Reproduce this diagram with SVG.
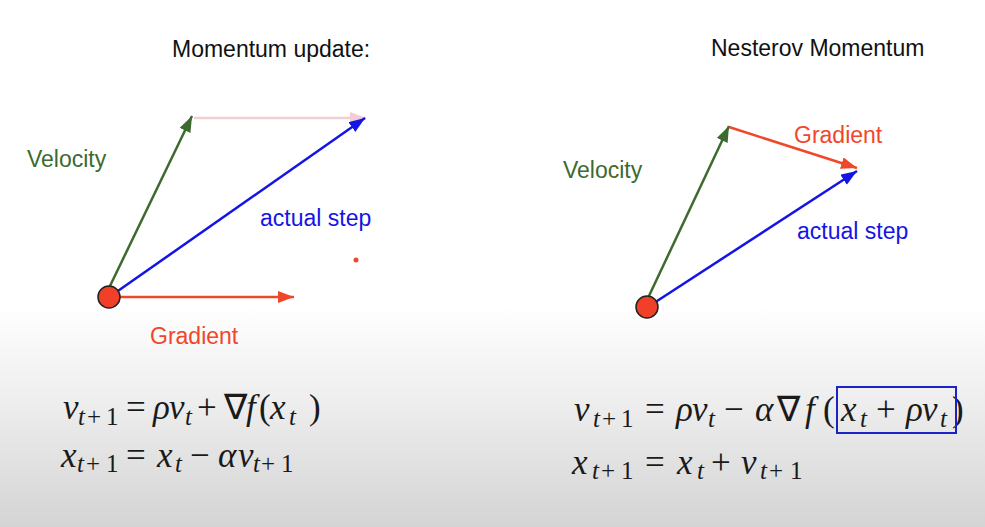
<svg xmlns="http://www.w3.org/2000/svg" width="985" height="527" viewBox="0 0 985 527">
<style>
.t{font-family:"Liberation Sans",Arial,sans-serif;font-size:23px;fill:#111}
.lab{font-family:"Liberation Sans",Arial,sans-serif;font-size:23px}
.g{fill:#3d6a2f}.b{fill:#1414e6}.r{fill:#f0472a}
.eq{font-family:"Liberation Serif","Times New Roman",serif;font-size:35px;fill:#1a1a1a}
.i{font-style:italic}
.s{font-size:25px}
.ln{stroke-width:2.5;fill:none}
</style>
<defs>
<linearGradient id="bg" x1="0" y1="0" x2="0" y2="1">
<stop offset="0" stop-color="#ffffff"/>
<stop offset="0.58" stop-color="#ffffff"/>
<stop offset="0.76" stop-color="#eeeeee"/>
<stop offset="1" stop-color="#d4d4d4"/>
</linearGradient>
<marker id="ag" markerUnits="userSpaceOnUse" markerWidth="18" markerHeight="14" refX="16" refY="6" orient="auto"><path d="M0,0 L16,6 L0,12 z" fill="#3d6a2f"/></marker>
<marker id="ab" markerUnits="userSpaceOnUse" markerWidth="18" markerHeight="14" refX="16" refY="6" orient="auto"><path d="M0,0 L16,6 L0,12 z" fill="#1414e6"/></marker>
<marker id="ar" markerUnits="userSpaceOnUse" markerWidth="18" markerHeight="14" refX="16" refY="6" orient="auto"><path d="M0,0 L16,6 L0,12 z" fill="#f0472a"/></marker>
<marker id="ap" markerUnits="userSpaceOnUse" markerWidth="18" markerHeight="14" refX="16" refY="6" orient="auto"><path d="M0,0 L16,6 L0,12 z" fill="#f3cdd4"/></marker>
</defs>
<rect width="985" height="527" fill="url(#bg)"/>

<g id="titles">
<text class="t" x="172" y="57">Momentum update:</text>
<text class="t" x="711" y="56">Nesterov Momentum</text>
</g>

<g id="connectors">
<line class="ln" x1="194" y1="118" x2="366" y2="118" stroke="#f3cdd4" marker-end="url(#ap)"/>
<line class="ln" x1="109" y1="288" x2="192" y2="116" stroke="#3d6a2f" marker-end="url(#ag)"/>
<line class="ln" x1="115" y1="293" x2="365" y2="118" stroke="#1414e6" marker-end="url(#ab)"/>
<line class="ln" x1="118" y1="297" x2="294" y2="297" stroke="#f0472a" marker-end="url(#ar)"/>

<line class="ln" x1="648" y1="298" x2="729" y2="126" stroke="#3d6a2f" marker-end="url(#ag)"/>
<line class="ln" x1="729" y1="127" x2="857" y2="168" stroke="#f0472a" marker-end="url(#ar)"/>
<line class="ln" x1="654" y1="303" x2="857" y2="171" stroke="#1414e6" marker-end="url(#ab)"/>
</g>

<g id="left-start"><circle cx="109" cy="297" r="11" fill="#f0402a" stroke="#222" stroke-width="1.5"/></g>
<g id="right-start"><circle cx="647" cy="307" r="11" fill="#f0402a" stroke="#222" stroke-width="1.5"/></g>
<g id="dot"><circle cx="356" cy="260" r="2.5" fill="#f0472a"/></g>

<g id="labels">
<text class="lab g" x="27" y="167">Velocity</text>
<text class="lab b" x="260" y="226">actual step</text>
<text class="lab r" x="150" y="344">Gradient</text>
<text class="lab g" x="563" y="178">Velocity</text>
<text class="lab r" x="794" y="143">Gradient</text>
<text class="lab b" x="797" y="239">actual step</text>
</g>

<g id="eq-left">
<text class="eq"><tspan class="i" x="63" y="419">v</tspan><tspan class="s i" x="78" y="425">t</tspan><tspan class="s" x="87" y="425">+</tspan><tspan class="s" x="106" y="425">1</tspan><tspan x="126" y="419">=</tspan><tspan class="i" x="153" y="419">ρ</tspan><tspan class="i" x="169" y="419">v</tspan><tspan class="s i" x="185" y="425">t</tspan><tspan x="197" y="419">+</tspan><tspan x="224" y="419">∇</tspan><tspan class="i" x="246" y="419">f</tspan><tspan x="259" y="419">(</tspan><tspan class="i" x="270" y="419">x</tspan><tspan class="s i" x="289" y="425">t</tspan><tspan x="309" y="419">)</tspan></text>
<text class="eq"><tspan class="i" x="61" y="467">x</tspan><tspan class="s i" x="77" y="472">t</tspan><tspan class="s" x="86" y="472">+</tspan><tspan class="s" x="106" y="472">1</tspan><tspan x="126" y="467">=</tspan><tspan class="i" x="157" y="467">x</tspan><tspan class="s i" x="175" y="472">t</tspan><tspan x="190" y="467">−</tspan><tspan class="i" x="218" y="467">α</tspan><tspan class="i" x="238" y="467">v</tspan><tspan class="s i" x="253" y="472">t</tspan><tspan class="s" x="261" y="472">+</tspan><tspan class="s" x="281" y="472">1</tspan></text>
</g>

<g id="eq-right">
<text class="eq"><tspan class="i" x="574" y="421">v</tspan><tspan class="s i" x="593" y="427">t</tspan><tspan class="s" x="602" y="427">+</tspan><tspan class="s" x="621" y="427">1</tspan><tspan x="645" y="421">=</tspan><tspan class="i" x="676" y="421">ρ</tspan><tspan class="i" x="692" y="421">v</tspan><tspan class="s i" x="708" y="427">t</tspan><tspan x="724" y="421">−</tspan><tspan class="i" x="755" y="421">α</tspan><tspan x="777" y="421">∇</tspan><tspan class="i" x="805" y="421">f</tspan><tspan x="823" y="421">(</tspan><tspan class="i" x="841" y="421">x</tspan><tspan class="s i" x="860" y="427">t</tspan><tspan x="876" y="421">+</tspan><tspan class="i" x="906" y="421">ρ</tspan><tspan class="i" x="922" y="421">v</tspan><tspan class="s i" x="940" y="427">t</tspan><tspan x="952" y="421">)</tspan></text>
<rect x="837" y="387" width="119" height="46" fill="none" stroke="#1a22c8" stroke-width="2"/>
<text class="eq"><tspan class="i" x="572" y="474">x</tspan><tspan class="s i" x="592" y="479">t</tspan><tspan class="s" x="601" y="479">+</tspan><tspan class="s" x="621" y="479">1</tspan><tspan x="645" y="474">=</tspan><tspan class="i" x="677" y="474">x</tspan><tspan class="s i" x="697" y="479">t</tspan><tspan x="711" y="474">+</tspan><tspan class="i" x="741" y="474">v</tspan><tspan class="s i" x="760" y="479">t</tspan><tspan class="s" x="769" y="479">+</tspan><tspan class="s" x="790" y="479">1</tspan></text>
</g>
</svg>
